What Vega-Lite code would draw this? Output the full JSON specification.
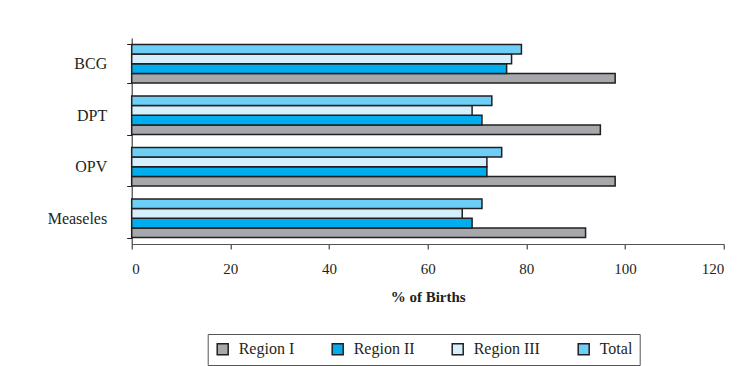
{
  "$schema": "https://vega.github.io/schema/vega-lite/v6.json",
  "autosize": "none",
  "padding": {"left": 131.7, "top": 38, "right": 27.3, "bottom": 122},
  "width": 592,
  "height": 206,
  "background": "white",
  "data": {
    "values": [
      {"vaccine": "BCG", "series": "Region I", "pct": 98},
      {"vaccine": "BCG", "series": "Region II", "pct": 76},
      {"vaccine": "BCG", "series": "Region III", "pct": 77},
      {"vaccine": "BCG", "series": "Total", "pct": 79},
      {"vaccine": "DPT", "series": "Region I", "pct": 95},
      {"vaccine": "DPT", "series": "Region II", "pct": 71},
      {"vaccine": "DPT", "series": "Region III", "pct": 69},
      {"vaccine": "DPT", "series": "Total", "pct": 73},
      {"vaccine": "OPV", "series": "Region I", "pct": 98},
      {"vaccine": "OPV", "series": "Region II", "pct": 72},
      {"vaccine": "OPV", "series": "Region III", "pct": 72},
      {"vaccine": "OPV", "series": "Total", "pct": 75},
      {"vaccine": "Measeles", "series": "Region I", "pct": 92},
      {"vaccine": "Measeles", "series": "Region II", "pct": 69},
      {"vaccine": "Measeles", "series": "Region III", "pct": 67},
      {"vaccine": "Measeles", "series": "Total", "pct": 71}
    ]
  },
  "mark": {"type": "bar", "stroke": "#231F20", "strokeWidth": 1.5},
  "encoding": {
    "y": {
      "field": "vaccine",
      "type": "nominal",
      "sort": ["BCG", "DPT", "OPV", "Measeles"],
      "scale": {"paddingInner": 0.25, "paddingOuter": 0.125},
      "axis": {
        "title": null,
        "tickBand": "extent",
        "tickSize": 5,
        "tickColor": "#231F20",
        "domainColor": "#231F20",
        "labelPadding": 20,
        "labelFontSize": 16,
        "labelColor": "#231F20",
        "labelFont": "Liberation Serif"
      }
    },
    "yOffset": {
      "field": "series",
      "type": "nominal",
      "sort": ["Total", "Region III", "Region II", "Region I"],
      "scale": {"paddingInner": 0, "paddingOuter": 0}
    },
    "x": {
      "field": "pct",
      "type": "quantitative",
      "scale": {"domain": [0, 120], "nice": false},
      "axis": {
        "title": "% of Births",
        "values": [0, 20, 40, 60, 80, 100, 120],
        "grid": false,
        "tickSize": 5,
        "tickColor": "#231F20",
        "domainColor": "#555555",
        "labelPadding": 12,
        "labelFontSize": 15,
        "labelColor": "#231F20",
        "labelFont": "Liberation Serif",
        "titleFont": "Liberation Serif",
        "titleFontSize": 15,
        "titleFontWeight": "bold",
        "titleColor": "#231F20",
        "titlePadding": 13
      }
    },
    "color": {
      "field": "series",
      "type": "nominal",
      "scale": {
        "domain": ["Region I", "Region II", "Region III", "Total"],
        "range": ["#A6A8AB", "#00AEEF", "#D5EFFC", "#6DCFF6"]
      },
      "legend": {
        "title": null,
        "orient": "none",
        "legendX": 76,
        "legendY": 296,
        "direction": "horizontal",
        "strokeColor": "#555555",
        "padding": 7,
        "columnPadding": 34,
        "symbolType": "square",
        "symbolSize": 121,
        "symbolStrokeColor": "#231F20",
        "symbolStrokeWidth": 1.5,
        "symbolOffset": 0,
        "labelOffset": 8,
        "labelFontSize": 16,
        "labelFont": "Liberation Serif",
        "labelColor": "#231F20"
      }
    }
  },
  "config": {
    "view": {"stroke": null},
    "font": "Liberation Serif"
  }
}
